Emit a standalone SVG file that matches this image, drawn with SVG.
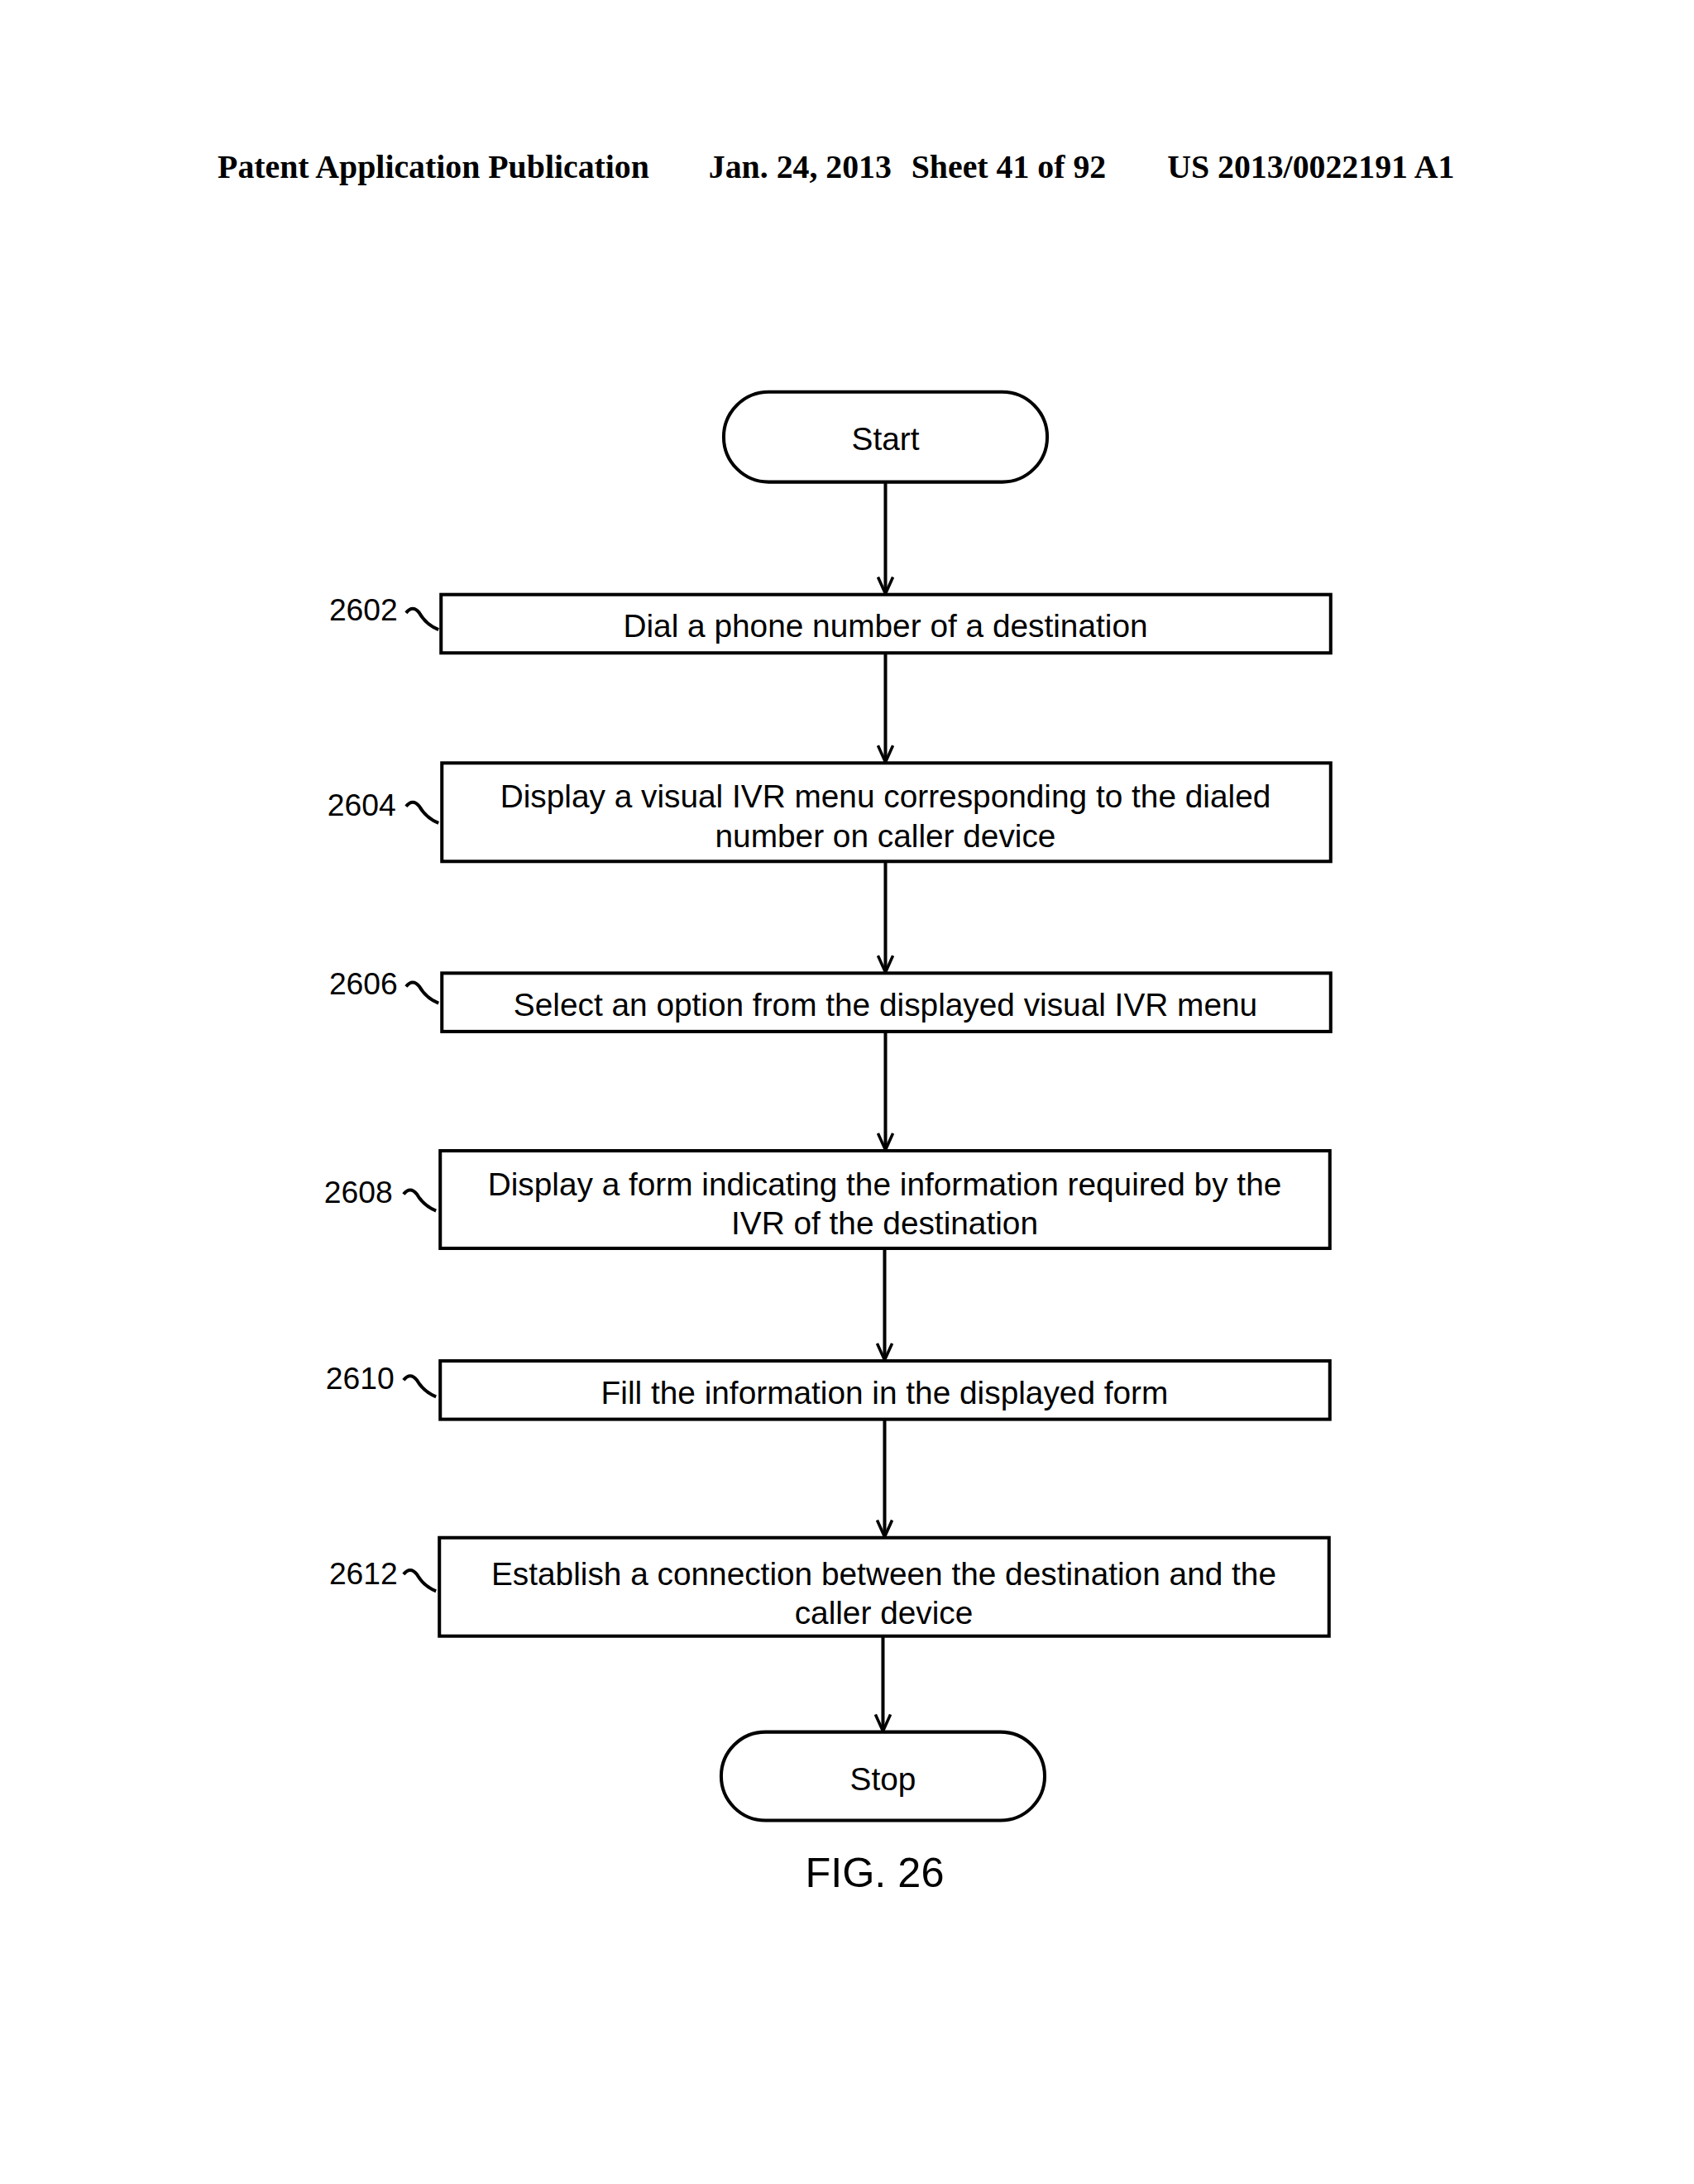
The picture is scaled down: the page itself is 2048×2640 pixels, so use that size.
<svg xmlns="http://www.w3.org/2000/svg" width="2048" height="2640" viewBox="0 0 2048 2640">
<style>
.h{font-family:"Liberation Serif",serif;font-weight:bold;font-size:39.5px;fill:#000}
.t{font-family:"Liberation Sans",Arial,sans-serif;font-size:38.5px;fill:#000;text-anchor:middle;dominant-baseline:central}
.l{font-family:"Liberation Sans",Arial,sans-serif;font-size:37px;fill:#000;text-anchor:end;dominant-baseline:central}
.b{fill:#fff;stroke:#000;stroke-width:4}
.c{fill:none;stroke:#000;stroke-width:4}
</style>
<defs><marker id="a" markerWidth="24" markerHeight="20" refX="22" refY="10" orient="auto" markerUnits="userSpaceOnUse" viewBox="0 0 24 20"><path d="M2,1 L22,10 L2,19" fill="none" stroke="#000" stroke-width="3.5"/></marker></defs>
<rect width="2048" height="2640" fill="#fff"/>
<g transform="scale(1.008)">
<g id="header">
<text class="h" x="261" y="213">Patent Application Publication</text>
<text class="h" x="850" y="213">Jan. 24, 2013</text>
<text class="h" x="1093" y="213">Sheet 41 of 92</text>
<text class="h" x="1400" y="213">US 2013/0022191 A1</text>
</g>
<g id="connectors">
<line class="c" x1="1062" y1="578" x2="1062" y2="712" marker-end="url(#a)"/>
<line class="c" x1="1062" y1="783" x2="1062" y2="914" marker-end="url(#a)"/>
<line class="c" x1="1062" y1="1033" x2="1062" y2="1166" marker-end="url(#a)"/>
<line class="c" x1="1062" y1="1237" x2="1062" y2="1379" marker-end="url(#a)"/>
<line class="c" x1="1061" y1="1497" x2="1061" y2="1631" marker-end="url(#a)"/>
<line class="c" x1="1061" y1="1702" x2="1061" y2="1843" marker-end="url(#a)"/>
<line class="c" x1="1059" y1="1962" x2="1059" y2="2076" marker-end="url(#a)"/>
<path class="c" d="M487,735 q8,-10 16,0 q8,14 23,20" stroke-width="3"/>
<path class="c" d="M487,967 q8,-10 16,0 q8,14 23,20" stroke-width="3"/>
<path class="c" d="M487,1183 q8,-10 16,0 q8,14 23,20" stroke-width="3"/>
<path class="c" d="M484,1432 q8,-10 16,0 q8,14 23,20" stroke-width="3"/>
<path class="c" d="M484,1655 q8,-10 16,0 q8,14 23,20" stroke-width="3"/>
<path class="c" d="M484,1888 q8,-10 16,0 q8,14 23,20" stroke-width="3"/>
</g>
<g id="start"><rect class="b" x="868" y="470" width="388" height="108" rx="54"/><text class="t" x="1062" y="526">Start</text></g>
<g id="n2602"><rect class="b" x="529" y="713" width="1067" height="70"/><text class="t" x="1062" y="750">Dial a phone number of a destination</text><text class="l" x="477" y="731">2602</text></g>
<g id="n2604"><rect class="b" x="530" y="915" width="1066" height="118"/><text class="t" x="1062" y="955">Display a visual IVR menu corresponding to the dialed</text><text class="t" x="1062" y="1002">number on caller device</text><text class="l" x="475" y="965">2604</text></g>
<g id="n2606"><rect class="b" x="530" y="1167" width="1066" height="70"/><text class="t" x="1062" y="1205">Select an option from the displayed visual IVR menu</text><text class="l" x="477" y="1180">2606</text></g>
<g id="n2608"><rect class="b" x="528" y="1380" width="1067" height="117"/><text class="t" x="1061" y="1420">Display a form indicating the information required by the</text><text class="t" x="1061" y="1467">IVR of the destination</text><text class="l" x="471" y="1430">2608</text></g>
<g id="n2610"><rect class="b" x="528" y="1632" width="1067" height="70"/><text class="t" x="1061" y="1670">Fill the information in the displayed form</text><text class="l" x="473" y="1653">2610</text></g>
<g id="n2612"><rect class="b" x="527" y="1844" width="1067" height="118"/><text class="t" x="1060" y="1887">Establish a connection between the destination and the</text><text class="t" x="1060" y="1934">caller device</text><text class="l" x="477" y="1887">2612</text></g>
<g id="stop"><rect class="b" x="865" y="2077" width="388" height="106" rx="53"/><text class="t" x="1059" y="2133">Stop</text></g>
<text class="t" x="1049" y="2246" style="font-size:50px">FIG. 26</text>
</g>
</svg>
